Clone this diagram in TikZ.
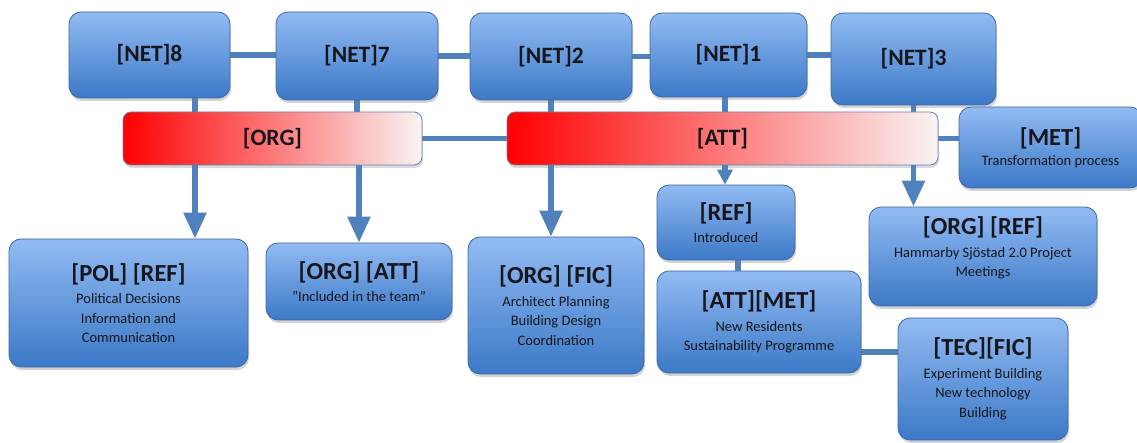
\documentclass[tikz,border=0pt]{standalone}
\usepackage{fontspec}
\setmainfont{Carlito}
\usetikzlibrary{arrows.meta,shadows,backgrounds}

\definecolor{linkblue}{RGB}{79,129,189}
\definecolor{boxtop}{RGB}{146,187,243}
\definecolor{boxbot}{RGB}{60,121,199}
\definecolor{boxline}{RGB}{62,104,165}
\definecolor{barline}{RGB}{98,132,178}
\definecolor{barend}{RGB}{250,243,243}
\definecolor{ink}{RGB}{22,22,28}

% bold heading inside a box
\newcommand\boxhead[1]{{\fontsize{24.5}{27}\selectfont\bfseries #1}}

\tikzset{
  box/.style={rounded corners=12pt, draw=boxline, line width=0.8pt,
    top color=boxtop, bottom color=boxbot,
    drop shadow={shadow xshift=1pt, shadow yshift=-3pt, opacity=0.35},
    align=center, text=ink, inner sep=0pt,
    font=\fontsize{14.5}{19.5}\selectfont},
  netbox/.style={box, font=\fontsize{23.5}{26}\selectfont\bfseries},
  bar/.style={rounded corners=8pt, draw=barline, line width=0.8pt,
    left color=red, right color=barend,
    drop shadow={shadow xshift=1pt, shadow yshift=-3pt, opacity=0.3},
    text=ink, inner sep=0pt, font=\fontsize{23.5}{26}\selectfont\bfseries},
  link/.style={draw=linkblue, line width=5.5pt},
  flow/.style={link, -{Triangle[width=22pt,length=26pt]}},
  flowshort/.style={link, -{Triangle[width=15pt,length=15pt]}},
}

\begin{document}
\begin{tikzpicture}[x=1pt,y=-1pt]
\useasboundingbox (0,0) rectangle (1137,443);

% network row
\node[netbox, minimum width=161pt, minimum height=86pt] (net8) at (149.5,55) {[NET]8};
\node[netbox, minimum width=162pt, minimum height=88pt] (net7) at (357,56) {[NET]7};
\node[netbox, minimum width=162pt, minimum height=87pt] (net2) at (551,56.5) {[NET]2};
\node[netbox, minimum width=157pt, minimum height=84pt] (net1) at (728.5,55) {[NET]1};
\node[netbox, minimum width=165pt, minimum height=92pt] (net3) at (913.5,59) {[NET]3};

% category bars
\node[bar, minimum width=299pt, minimum height=53pt] (orgbar) at (272.5,138.5) {[ORG]};
\node[bar, minimum width=431pt, minimum height=53pt] (attbar) at (722.5,138.5) {[ATT]};
\node[box, minimum width=183pt, minimum height=81pt] (met) at (1050.5,147.5)
  {\boxhead{[MET]}\\[1pt] Transformation process};

% outcome boxes
\node[box, minimum width=239pt, minimum height=128pt] (pol) at (128.5,303)
  {\boxhead{[POL] [REF]}\\[3pt] Political Decisions\\ Information and\\ Communication};
\node[box, minimum width=186pt, minimum height=77pt] (orgatt) at (359,281.5)
  {\boxhead{[ORG] [ATT]}\\[3pt] ''Included in the team''};
\node[box, minimum width=176pt, minimum height=137pt] (orgfic) at (556,305.5)
  {\boxhead{[ORG] [FIC]}\\[3pt] Architect Planning\\ Building Design\\ Coordination};
\node[box, minimum width=138pt, minimum height=75pt] (ref) at (726,222.5)
  {\boxhead{[REF]}\\[3pt] Introduced};
\node[box, minimum width=204pt, minimum height=102pt] (attmet) at (759,322)
  {\boxhead{[ATT][MET]}\\[3pt] New Residents\\ Sustainability Programme};
\node[box, minimum width=228pt, minimum height=99pt] (orgref) at (983,256.5)
  {\boxhead{[ORG] [REF]}\\[3pt] Hammarby Sjöstad 2.0 Project\\ Meetings\\ ~};
\node[box, minimum width=170pt, minimum height=122pt] (tecfic) at (983,379)
  {\boxhead{[TEC][FIC]}\\[3pt] Experiment Building\\ New technology\\ Building};

% plain connectors behind the boxes
\begin{scope}[on background layer]
  \draw[link] (net8.east) -- (net8.east -| net7.west);
  \draw[link] (net7.east) -- (net7.east -| net2.west);
  \draw[link] (net2.east) -- (net2.east -| net1.west);
  \draw[link] (net1.east) -- (net1.east -| net3.west);
  \draw[link] ([xshift=45.5pt]net8.south) -- ([xshift=45.5pt]net8.south |- orgbar.north);
  \draw[link] (net7.south) -- (net7.south |- orgbar.north);
  \draw[link] (net2.south) -- (net2.south |- attbar.north);
  \draw[link] ([xshift=-3.5pt]net1.south) -- ([xshift=-3.5pt]net1.south |- attbar.north);
  \draw[link] (net3.south) -- (net3.south |- attbar.north);
  \draw[link] (orgbar.east) -- (attbar.west);
  \draw[link] (attbar.east) -- (attbar.east -| met.west);
  \draw[link] ([xshift=12pt]ref.south) -- ([xshift=12pt]ref.south |- attmet.north);
  \draw[link] ([yshift=-30pt]attmet.east) -- ([yshift=-30pt]attmet.east -| tecfic.west);
\end{scope}

% arrows from the bars
\draw[flow] ([xshift=-77.5pt]orgbar.south) -- ([xshift=-77.5pt]orgbar.south |- pol.north);
\draw[flow] (orgatt.north |- orgbar.south) -- (orgatt.north);
\draw[flow] (net2.south |- attbar.south) -- (net2.south |- orgfic.north);
\draw[flowshort] ([xshift=-1pt]ref.north |- attbar.south) -- ([xshift=-1pt]ref.north);
\draw[flow] (net3.south |- attbar.south) -- (net3.south |- orgref.north);
\end{tikzpicture}
\end{document}
